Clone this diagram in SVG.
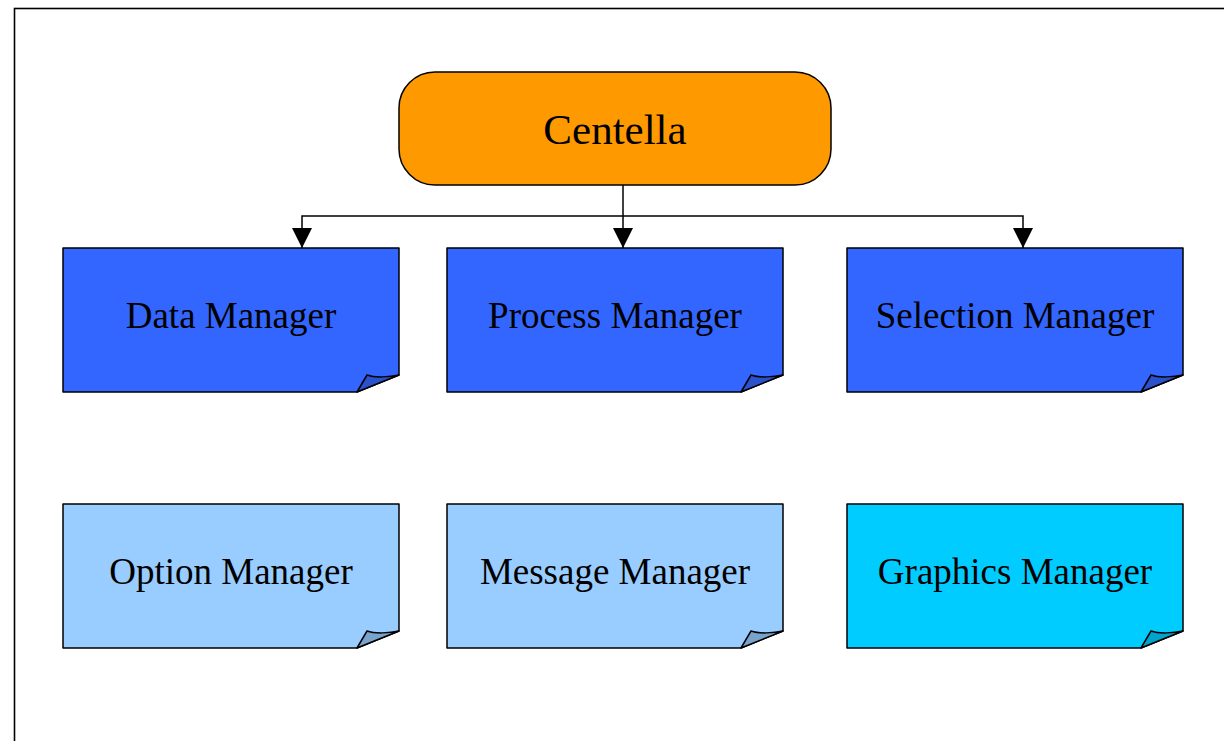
<svg xmlns="http://www.w3.org/2000/svg" width="1224" height="741" viewBox="0 0 1224 741">
<defs>
<style>
.frame{fill:none;stroke:#000;stroke-width:1.6}
.body{stroke:#000;stroke-width:1.5;stroke-linejoin:round}
.fold{stroke:#000;stroke-width:1.5;stroke-linejoin:round}
.blue{fill:#3366ff}.blue-f{fill:#2952cc}
.light{fill:#99ccff}.light-f{fill:#7aa3cc}
.cyan{fill:#00ccff}.cyan-f{fill:#00a3cc}
.lbl{font-family:"Liberation Serif","Times New Roman",serif;font-size:37px;fill:#000;text-anchor:middle}
.conn{fill:none;stroke:#000;stroke-width:1.5}
</style>
<marker id="arr" viewBox="0 0 20 20" refX="20" refY="10" markerWidth="20" markerHeight="20" markerUnits="userSpaceOnUse" orient="auto">
<path d="M0,0 L20,10 L0,20 Z" fill="#000"/>
</marker>
</defs>
<rect class="frame" x="14.5" y="8.5" width="1300" height="800"/>
<g id="connectors">
<path class="conn" d="M623,185 V248" marker-end="url(#arr)"/>
<path class="conn" d="M623,216 H302 V248" marker-end="url(#arr)"/>
<path class="conn" d="M623,216 H1023 V248" marker-end="url(#arr)"/>
</g>
<g id="centella">
<rect x="399" y="72" width="432" height="113" rx="36" ry="36" fill="#ff9900" stroke="#000" stroke-width="1.5"/>
<text class="lbl" x="615" y="144" style="font-size:43px">Centella</text>
</g>
<g id="data-manager">
<path class="body blue" d="M63,248 H399 V375 L357,392 H63 Z"/>
<path class="fold blue-f" d="M357,392 L367,375 C375,378 390,377 399,375 Z"/>
<text class="lbl" x="231" y="328">Data Manager</text>
</g>
<g id="process-manager">
<path class="body blue" d="M447,248 H783 V375 L741,392 H447 Z"/>
<path class="fold blue-f" d="M741,392 L751,375 C759,378 774,377 783,375 Z"/>
<text class="lbl" x="615" y="328">Process Manager</text>
</g>
<g id="selection-manager">
<path class="body blue" d="M847,248 H1183 V375 L1141,392 H847 Z"/>
<path class="fold blue-f" d="M1141,392 L1151,375 C1159,378 1174,377 1183,375 Z"/>
<text class="lbl" x="1015" y="328">Selection Manager</text>
</g>
<g id="option-manager">
<path class="body light" d="M63,504 H399 V631 L357,648 H63 Z"/>
<path class="fold light-f" d="M357,648 L367,631 C375,634 390,633 399,631 Z"/>
<text class="lbl" x="231" y="584">Option Manager</text>
</g>
<g id="message-manager">
<path class="body light" d="M447,504 H783 V631 L741,648 H447 Z"/>
<path class="fold light-f" d="M741,648 L751,631 C759,634 774,633 783,631 Z"/>
<text class="lbl" x="615" y="584">Message Manager</text>
</g>
<g id="graphics-manager">
<path class="body cyan" d="M847,504 H1183 V631 L1141,648 H847 Z"/>
<path class="fold cyan-f" d="M1141,648 L1151,631 C1159,634 1174,633 1183,631 Z"/>
<text class="lbl" x="1015" y="584">Graphics Manager</text>
</g>
</svg>
